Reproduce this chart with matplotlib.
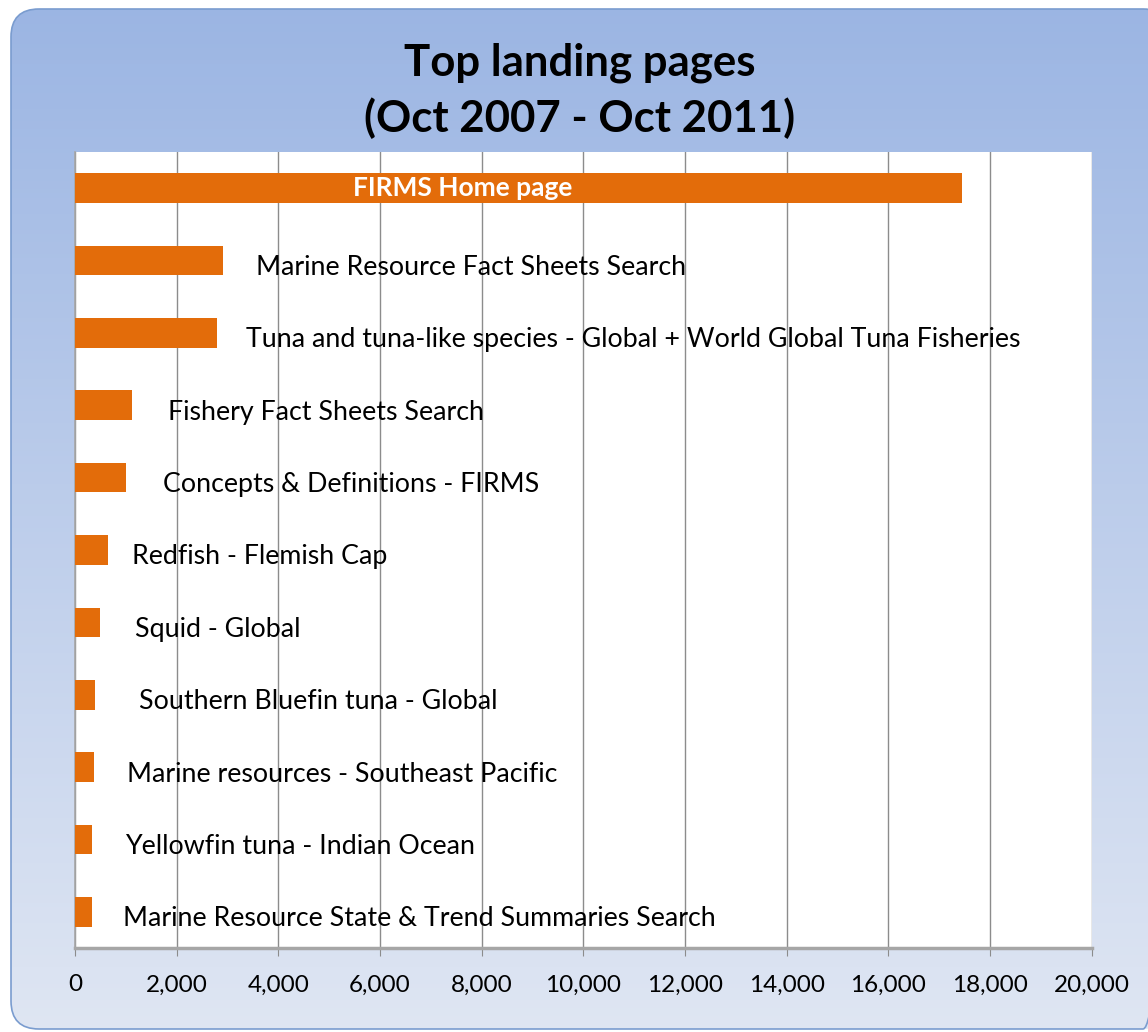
import matplotlib.pyplot as plt
import numpy as np
from matplotlib.patches import FancyBboxPatch

pages = [
    "FIRMS Home page",
    "Marine Resource Fact Sheets Search",
    "Tuna and tuna-like species - Global + World Global Tuna Fisheries",
    "Fishery Fact Sheets Search",
    "Concepts & Definitions - FIRMS",
    "Redfish - Flemish Cap",
    "Squid - Global",
    "Southern Bluefin tuna - Global",
    "Marine resources - Southeast Pacific",
    "Yellowfin tuna - Indian Ocean",
    "Marine Resource State & Trend Summaries Search",
]
visits = [17450, 2910, 2790, 1120, 1000, 650, 490, 390, 370, 335, 335]
xticks = list(range(0, 20001, 2000))

# label offsets right of bar end (points), the original labels were hand placed
label_pad = [0, 24, 21, 26, 27, 17, 25, 32, 24, 24, 22]

FONT = "Lato"
ORANGE = "#E36C0A"

fig = plt.figure(figsize=(11.48, 10.32), dpi=100)

# rounded gradient background
bg = fig.add_axes([0, 0, 1, 1], zorder=0)
bg.set_xlim(0, 1148)
bg.set_ylim(1032, 0)
bg.axis("off")
grad = np.linspace(0, 1, 256).reshape(-1, 1)
top = np.array([0x9B, 0xB5, 0xE3]) / 255
bot = np.array([0xDF, 0xE6, 0xF3]) / 255
img = top + grad[..., None] * (bot - top)
im = bg.imshow(img, extent=[0, 1148, 1032, 0], aspect="auto")
box = FancyBboxPatch((11, 9), 1160, 1020, boxstyle="round,pad=0,rounding_size=28",
                     fc="none", ec="#7A9CCF", lw=1.2, transform=bg.transData)
bg.add_patch(box)
im.set_clip_path(box)

ax = fig.add_axes([0.0653, 0.0814, 0.8857, 0.7713], zorder=1)
ax.set_facecolor("white")
y = np.arange(len(pages))
ax.barh(y, visits, height=0.41, color=ORANGE, zorder=3)
ax.set_ylim(len(pages) - 0.5, -0.5)
ax.set_xlim(0, 20000)
ax.set_yticks([])
ax.set_xticks(xticks)
ax.set_xticklabels([f"{t:,}" for t in xticks], fontsize=17.5, family=FONT)
ax.tick_params(axis="x", length=6, color="#8C8C8C", pad=13)
ax.grid(axis="x", color="#8C8C8C", lw=1, zorder=1)
for s in ["top", "right"]:
    ax.spines[s].set_visible(False)
ax.spines["bottom"].set_color("#A6A6A6")
ax.spines["bottom"].set_linewidth(2.5)
ax.spines["left"].set_color("#A6A6A6")
ax.spines["left"].set_linewidth(1.2)

for i, (name, v) in enumerate(zip(pages, visits)):
    if i == 0:
        ax.text(v / 2 - 1100, i, name, ha="center", va="center", color="white",
                fontsize=19, fontweight="bold", family=FONT, zorder=4)
    else:
        ax.annotate(name, (v, i), xytext=(label_pad[i], -5), textcoords="offset points",
                    ha="left", va="center", fontsize=19.3, family=FONT, zorder=4)

fig.text(0.505, 0.912, "Top landing pages\n(Oct 2007 - Oct 2011)", ha="center",
         va="center", fontsize=31.5, fontweight="bold", family=FONT, linespacing=1.42)

fig.savefig("out.png", dpi=100)
